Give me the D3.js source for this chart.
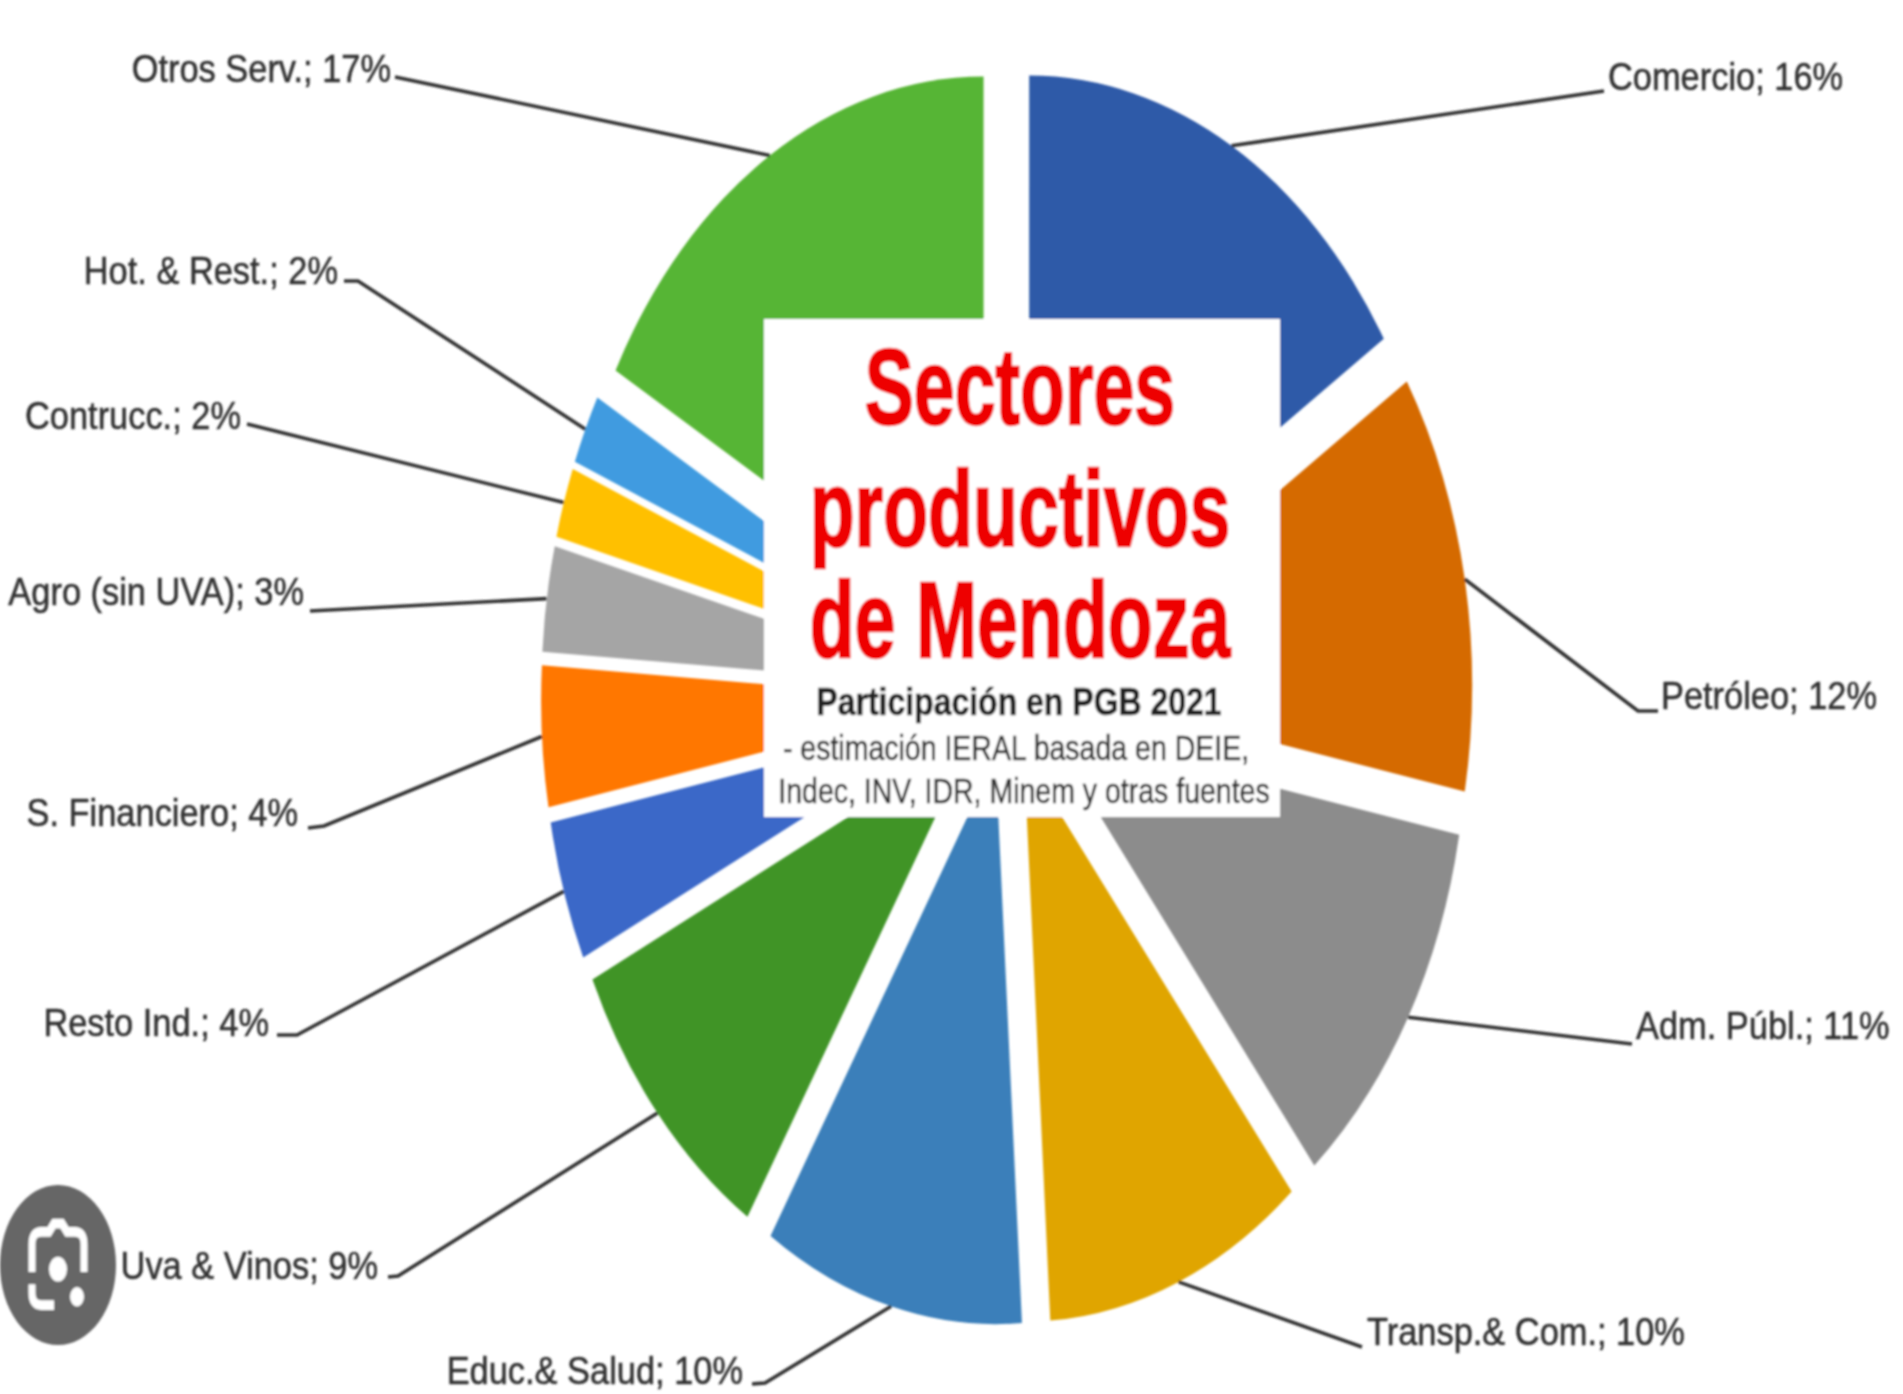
<!DOCTYPE html>
<meta charset="utf-8">
<style>
body { margin: 0; background: #fff; }
text { font-family: "Liberation Sans", Arial, sans-serif; }
</style>
<svg></svg>
<script src="https://d3js.org/d3.v7.min.js"></script>
<script>

var width = 1903, height = 1394;

var categories = ["Comercio", "Petróleo", "Adm. Públ.", "Transp.& Com.", "Educ.& Salud", "Uva & Vinos",
  "Resto Ind.", "S. Financiero", "Agro (sin UVA)", "Contrucc.", "Hot. & Rest.", "Otros Serv."];
var values = [16, 12, 11, 10, 10, 9, 4, 4, 3, 2, 2, 17];
var colors = ["#2f5aa8", "#d56a00", "#8c8c8c", "#e0a500", "#3a7fba", "#3f9428",
  "#3a68c8", "#ff7700", "#a5a5a5", "#ffc000", "#3f9be0", "#57b535"];

// label layout, same order as categories
var labelX = [1608, 1661, 1636, 1367, 743, 378, 269, 298, 304, 241, 338, 391];
var labelY = [90, 709, 1039, 1345, 1384, 1279, 1036, 826, 605, 429, 284, 82];
var labelAnchor = ["start", "start", "start", "start", "end", "end", "end", "end", "end", "end", "end", "end"];
var leaderEnds = [
  [[1604, 91]],
  [[1638, 711], [1658, 711]],
  [[1632, 1044]],
  [[1362, 1347]],
  [[765, 1383], [752, 1384]],
  [[398, 1276], [388, 1277]],
  [[297, 1035], [277, 1035]],
  [[324, 826], [308, 828]],
  [[310, 611]],
  [[247, 424]],
  [[358, 281], [344, 281]],
  [[395, 77]]
];

var cx = 1007, cy = 697, radius = 420, explode = 46, stretch = 1.35;

var svg = d3.select("svg")
    .attr("width", width)
    .attr("height", height)
    .style("display", "block");

// the source is a soft, upscaled picture
svg.append("defs").append("filter")
    .attr("id", "soft")
    .attr("x", "-5%").attr("y", "-5%").attr("width", "110%").attr("height", "110%")
  .append("feGaussianBlur")
    .attr("stdDeviation", 1.1);

var root = svg.append("g").attr("filter", "url(#soft)");

var pie = d3.pie().sort(null).value(function(d) { return d; });
var arcs = pie(values);
var arc = d3.arc().innerRadius(0).outerRadius(radius);
var rim = d3.arc().innerRadius(radius).outerRadius(radius);
var unit = d3.arc().innerRadius(explode).outerRadius(explode);

function offset(d) { return unit.centroid(d); }

var slices = root.append("g")
    .attr("transform", "translate(" + cx + "," + cy + ") scale(1," + stretch + ")");

slices.selectAll("path")
    .data(arcs)
  .enter().append("path")
    .attr("d", arc)
    .attr("fill", function(d, i) { return colors[i]; })
    .attr("transform", function(d) { return "translate(" + offset(d) + ")"; });

// leader lines start on the rim of each slice, at its mid angle
var line = d3.line();

root.selectAll("path.leader")
    .data(arcs)
  .enter().append("path")
    .attr("class", "leader")
    .attr("fill", "none")
    .attr("stroke", "#333")
    .attr("stroke-width", 3.6)
    .attr("d", function(d, i) {
      var o = offset(d), p = rim.centroid(d);
      return line([[cx + o[0] + p[0], cy + (o[1] + p[1]) * stretch]].concat(leaderEnds[i]));
    });

function stretched(parent, x, y, str, size, sy) {
  return parent.append("text")
      .attr("transform", "translate(" + x + "," + y + ") scale(1," + sy + ")")
      .attr("font-size", size)
      .text(str);
}

root.selectAll("g.label")
    .data(arcs)
  .enter().append("g")
    .attr("class", "label")
    .each(function(d, i) {
      stretched(d3.select(this), labelX[i], labelY[i], categories[i] + "; " + values[i] + "%", 34.4, 1.12)
          .attr("text-anchor", labelAnchor[i])
          .attr("fill", "#333")
          .attr("stroke", "#333")
          .attr("stroke-width", 0.5);
    });

// title box over the middle of the pie
root.append("rect")
    .attr("x", 764).attr("y", 319)
    .attr("width", 516).attr("height", 498)
    .attr("fill", "#fff");

var titleLines = ["Sectores", "productivos", "de Mendoza"];
var titleY = [424, 546, 657];

titleLines.forEach(function(t, i) {
  stretched(root, 1020, titleY[i], t, 73.5, 1.46)
      .attr("text-anchor", "middle")
      .attr("font-weight", "bold")
      .attr("fill", "#ee0000")
      .attr("stroke", "#ee0000")
      .attr("stroke-width", 1.6);
});

stretched(root, 1019, 715, "Participación en PGB 2021", 32, 1.2)
    .attr("text-anchor", "middle")
    .attr("font-weight", "bold")
    .attr("fill", "#222")
    .attr("stroke", "#222")
    .attr("stroke-width", 0.5);

stretched(root, 1016, 760, "- estimación IERAL basada en DEIE,", 28.5, 1.2)
    .attr("text-anchor", "middle")
    .attr("fill", "#333")
    .attr("stroke", "#333")
    .attr("stroke-width", 0.4);

stretched(root, 1024, 803, "Indec, INV, IDR, Minem y otras fuentes", 28.5, 1.2)
    .attr("text-anchor", "middle")
    .attr("fill", "#333")
    .attr("stroke", "#333")
    .attr("stroke-width", 0.4);

// lens badge sitting on the image, bottom left
var badge = root.append("g").attr("transform", "translate(58,1265) scale(1,1.38)");

badge.append("circle").attr("r", 58).attr("fill", "#666");
badge.append("path")
    .attr("d", "M-26,5 V-15 Q-26,-24 -17,-24 H-9 L-4,-30 H4 L9,-24 H17 Q26,-24 26,-15 V5 M-26,14 V20 Q-26,29 -17,29 H-4")
    .attr("fill", "none").attr("stroke", "#fff").attr("stroke-width", 7);
badge.append("circle").attr("cy", 3).attr("r", 9).attr("fill", "#fff");
badge.append("circle").attr("cx", 19).attr("cy", 23).attr("r", 7).attr("fill", "#fff");

</script>
